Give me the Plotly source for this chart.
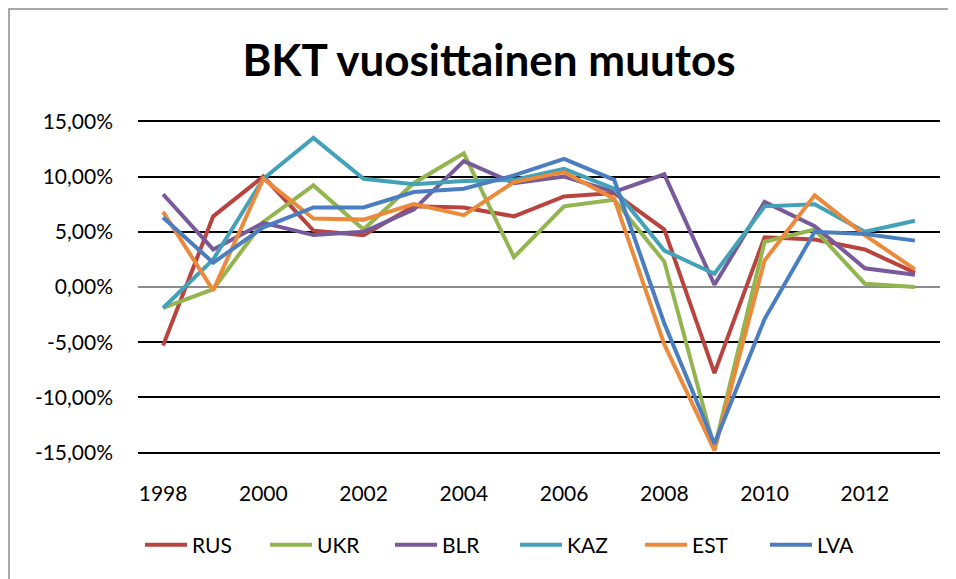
import plotly.graph_objects as go

years = list(range(1998, 2014))
RUS = [-5.3, 6.4, 10.0, 5.1, 4.7, 7.3, 7.2, 6.4, 8.2, 8.5, 5.2, -7.8, 4.5, 4.3, 3.4, 1.3]
UKR = [-1.9, -0.2, 5.9, 9.2, 5.2, 9.4, 12.1, 2.7, 7.3, 7.9, 2.3, -14.6, 4.1, 5.2, 0.3, 0.0]
BLR = [8.4, 3.4, 5.8, 4.7, 5.0, 7.0, 11.4, 9.4, 10.0, 8.6, 10.2, 0.2, 7.7, 5.5, 1.7, 1.1]
KAZ = [-1.9, 2.5, 9.8, 13.5, 9.8, 9.3, 9.6, 9.7, 10.7, 8.9, 3.3, 1.2, 7.3, 7.5, 5.0, 6.0]
EST = [6.8, -0.3, 9.8, 6.2, 6.1, 7.5, 6.5, 9.5, 10.4, 8.0, -5.2, -14.8, 2.4, 8.3, 4.7, 1.6]
LVA = [6.3, 2.2, 5.4, 7.2, 7.2, 8.6, 8.9, 10.1, 11.6, 9.7, -3.3, -14.2, -2.9, 5.0, 4.8, 4.2]

series = {"RUS": RUS, "UKR": UKR, "BLR": BLR, "KAZ": KAZ, "EST": EST, "LVA": LVA}
colors = {"RUS": "#B9443F", "UKR": "#93B550", "BLR": "#785A9B",
          "KAZ": "#43A1B8", "EST": "#EC8A3C", "LVA": "#4A7EC0"}

y_ticks = [-15, -10, -5, 0, 5, 10, 15]
y_labels = ["-15,00%", "-10,00%", "-5,00%", "0,00%", "5,00%", "10,00%", "15,00%"]
x_ticks = [1998, 2000, 2002, 2004, 2006, 2008, 2010, 2012]
x_labels = ["1998", "2000", "2002", "2004", "2006", "2008", "2010", "2012"]

# the page body has an 8px margin, so the figure is laid out in page coords minus 8
W, H = 948, 571
ML, MR, MT, MB = 130, 16, 110, 123
PW, PH = W - ML - MR, H - MT - MB

FONT = "Lato, Carlito, Calibri, sans-serif"

fig = go.Figure()
for name, vals in series.items():
    fig.add_trace(go.Scatter(x=years, y=vals, mode="lines", name=name,
                             line=dict(color=colors[name], width=4)))

# chart-area border (left/top visible)
bx0, by0, bx1, by1 = 1, 1, W + 5, H + 5
fig.add_shape(type="rect", xref="paper", yref="paper",
              x0=(bx0 - ML) / PW, x1=(bx1 - ML) / PW,
              y0=(H - MB - by1) / PH, y1=(H - MB - by0) / PH,
              line=dict(color="#8C8C8C", width=1.5), fillcolor="rgba(0,0,0,0)", layer="below")

fig.update_layout(
    width=W, height=H,
    margin=dict(l=ML, r=MR, t=MT, b=MB),
    paper_bgcolor="white", plot_bgcolor="white",
    font=dict(family=FONT, size=21, color="black"),
    title=dict(text="<b>BKT vuosittainen muutos</b>", font=dict(size=44, family=FONT, color="black"),
               x=481 / W, xref="container", xanchor="center",
               y=1 - 53 / H, yref="container", yanchor="middle"),
    showlegend=True,
    legend=dict(orientation="h", xref="container", yref="container",
                x=132 / W, xanchor="left", y=1 - 537 / H, yanchor="middle",
                font=dict(size=21, family=FONT), itemwidth=42,
                entrywidth=68, entrywidthmode="pixels",
                bgcolor="rgba(0,0,0,0)"),
    xaxis=dict(range=[1997.5, 2013.5], tickvals=x_ticks, ticktext=x_labels,
               showgrid=False, zeroline=False, showline=False, ticks="",
               ticklabelstandoff=23, tickfont=dict(size=21)),
    yaxis=dict(range=[-15.3, 15.3], tickvals=y_ticks, ticktext=y_labels,
               showgrid=True, gridcolor="black", gridwidth=1.5,
               zeroline=True, zerolinecolor="#8C8C8C", zerolinewidth=1.5,
               showline=False, ticks="", ticklabelstandoff=24, tickfont=dict(size=21)),
)

fig.write_html("out.html")
